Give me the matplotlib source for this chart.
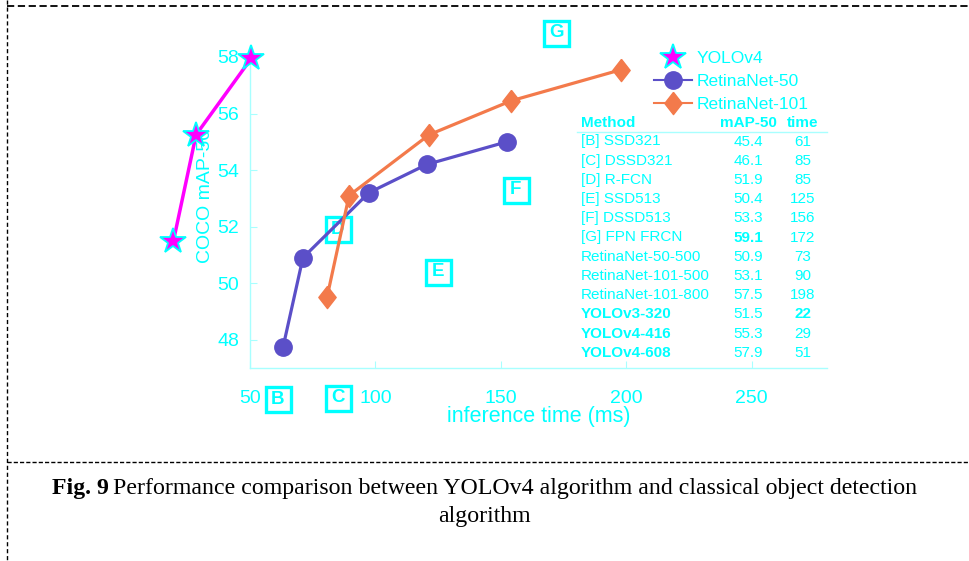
import matplotlib
matplotlib.use("Agg")
import matplotlib.pyplot as plt
from matplotlib.lines import Line2D

# curves (inference time ms, COCO mAP-50)
yolo_time = [19.5, 28.5, 50.5]
yolo_map = [51.5, 55.25, 57.95]
r50_time = [63.2, 71.1, 97.4, 120.5, 152.4]
r50_map = [47.75, 50.9, 53.2, 54.2, 55.0]
r101_time = [80.7, 89.5, 121.4, 154.1, 197.9]
r101_map = [49.5, 53.1, 55.25, 56.45, 57.55]

# boxed letters for the single-point methods
letters = ["B", "C", "D", "E", "F", "G"]
letter_time = [61, 85, 85, 125, 156, 172]
letter_map = [45.9, 45.95, 51.9, 50.4, 53.3, 58.85]

# table
methods = ["[B] SSD321", "[C] DSSD321", "[D] R-FCN", "[E] SSD513", "[F] DSSD513",
           "[G] FPN FRCN", "RetinaNet-50-500", "RetinaNet-101-500", "RetinaNet-101-800",
           "YOLOv3-320", "YOLOv4-416", "YOLOv4-608"]
table_map = ["45.4", "46.1", "51.9", "50.4", "53.3", "59.1", "50.9", "53.1", "57.5",
             "51.5", "55.3", "57.9"]
table_time = ["61", "85", "85", "125", "156", "172", "73", "90", "198", "22", "29", "51"]

CYAN = "#00FFFF"
PALE = "#A8FFFF"
BLUE = "#5B4FC8"
ORANGE = "#F37A4B"
MAGENTA = "#FF00FF"

plt.rcParams["font.family"] = ["Liberation Sans", "DejaVu Sans"]

W, H = 969, 561
fig = plt.figure(figsize=(W / 100, H / 100), dpi=100)


def fx(px):
    return px / W


def fy(py):
    return 1 - py / H


ax = fig.add_axes([fx(250), fy(368), (827 - 250) / W, (368 - 48.5) / H])
ax.set_xlim(50, 280)
ax.set_ylim(47, 58.3)

diamond = [(0, 1), (0.78, 0), (0, -1), (-0.78, 0), (0, 1)]

# letter boxes under the curves
for lt, tx, ty in zip(letters, letter_time, letter_map):
    ax.plot(tx, ty, marker="s", ms=18, mfc="white", mec=CYAN, mew=2.4,
            clip_on=False, zorder=1)
    ax.text(tx, ty, lt, color=CYAN, fontsize=13.5, fontweight="bold",
            ha="center", va="center", clip_on=False, zorder=1.5)

ax.plot(r50_time, r50_map, color=BLUE, lw=2.3, marker="o", ms=12.5,
        mfc=BLUE, mec=BLUE, clip_on=False, zorder=3)
ax.plot(r101_time, r101_map, color=ORANGE, lw=2.3, marker=diamond, ms=16,
        mfc=ORANGE, mec=ORANGE, clip_on=False, zorder=3)
ax.plot(yolo_time, yolo_map, color=MAGENTA, lw=2.5, zorder=4, clip_on=False)
ax.plot(yolo_time, yolo_map, ls="none", marker="*", ms=19, mfc=MAGENTA,
        mec=CYAN, mew=1.3, zorder=5, clip_on=False)

for s in ["top", "right"]:
    ax.spines[s].set_visible(False)
for s in ["left", "bottom"]:
    ax.spines[s].set_color(PALE)
    ax.spines[s].set_linewidth(1)
ax.set_xticks([50, 100, 150, 200, 250])
ax.set_yticks([48, 50, 52, 54, 56, 58])
ax.tick_params(axis="x", direction="in", length=5, color=PALE, labelcolor=CYAN,
               labelsize=14, pad=16)
ax.tick_params(axis="y", direction="in", length=5, color=PALE, labelcolor=CYAN,
               labelsize=14, pad=8)
ax.patch.set_alpha(0)

ax.set_xlabel("inference time (ms)", color=CYAN, fontsize=15.5, labelpad=-1)
ax.set_ylabel("COCO mAP-50", color=CYAN, fontsize=14)
ax.yaxis.set_label_coords(-0.062, 0.54)

handles = [
    Line2D([], [], ls="none", marker="*", ms=19, mfc=MAGENTA, mec=CYAN, mew=1.3),
    Line2D([], [], color=BLUE, lw=1.5, marker="o", ms=12.5, mfc=BLUE, mec=BLUE),
    Line2D([], [], color=ORANGE, lw=1.5, marker=diamond, ms=16, mfc=ORANGE, mec=ORANGE),
]
leg = ax.legend(handles, ["YOLOv4", "RetinaNet-50", "RetinaNet-101"],
                loc="upper left", bbox_to_anchor=(fx(654), fy(51)),
                bbox_transform=fig.transFigure, frameon=False, borderpad=0,
                borderaxespad=0, handlelength=2.2, handletextpad=0.25,
                labelspacing=0.45, fontsize=12.5, labelcolor=CYAN)

# table
fig.text(fx(581), fy(123), "Method", color=CYAN, fontsize=11, fontweight="bold", va="center")
fig.text(fx(748), fy(123), "mAP-50", color=CYAN, fontsize=11, fontweight="bold",
         va="center", ha="center")
fig.text(fx(803), fy(123), "time", color=CYAN, fontsize=11, fontweight="bold",
         va="center", ha="center")
fig.add_artist(Line2D([fx(577), fx(827)], [fy(131.5), fy(131.5)], color=PALE, lw=1))
for i, (m, mp, t) in enumerate(zip(methods, table_map, table_time)):
    y = 141.5 + i * 19.2
    fig.text(fx(581), fy(y), m, color=CYAN, fontsize=11, va="center",
             fontweight="bold" if m.startswith("YOLO") else "normal")
    fig.text(fx(748), fy(y), mp, color=CYAN, fontsize=11, va="center", ha="center",
             fontweight="bold" if mp == "59.1" else "normal")
    fig.text(fx(803), fy(y), t, color=CYAN, fontsize=11, va="center", ha="center",
             fontweight="bold" if t == "22" else "normal")

# dashed frame
fig.add_artist(Line2D([fx(7), fx(969)], [fy(6), fy(6)], color="black", lw=1.3, ls=(0, (4, 2))))
fig.add_artist(Line2D([fx(7), fx(7)], [fy(0), fy(561)], color="black", lw=1.0, ls=(0, (3, 2))))
fig.add_artist(Line2D([fx(7), fx(969)], [fy(462), fy(462)], color="black", lw=1.0, ls=(0, (3, 1.5))))

# caption, centred, "Fig. 9" in bold
cap_font = ["Liberation Serif", "DejaVu Serif"]
cap_size = 17.2
t1 = fig.text(0, fy(494), "Fig. 9", family=cap_font, fontsize=cap_size,
              fontweight="bold", va="baseline")
t2 = fig.text(0, fy(494), "Performance comparison between YOLOv4 algorithm and classical object detection",
              family=cap_font, fontsize=cap_size, va="baseline")
fig.text(0.5, fy(522), "algorithm", family=cap_font, fontsize=cap_size,
         va="baseline", ha="center")
r = fig.canvas.get_renderer()
w1 = t1.get_window_extent(r).width
w2 = t2.get_window_extent(r).width
gap = 5
x0 = (W - (w1 + gap + w2)) / 2
t1.set_x(fx(x0))
t2.set_x(fx(x0 + w1 + gap))

fig.savefig("out.png", dpi=100)
